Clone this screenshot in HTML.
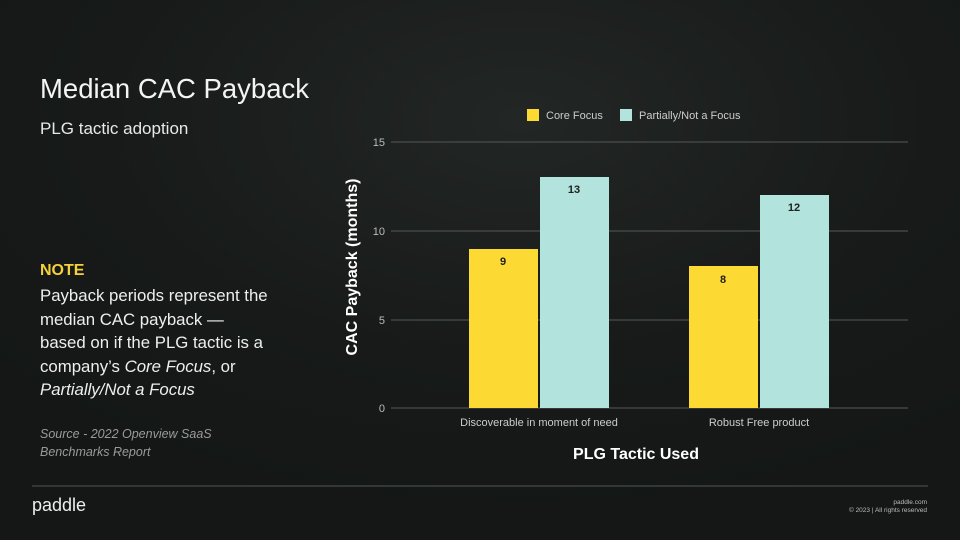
<!DOCTYPE html>
<html><head><meta charset="utf-8"><style>
body{margin:0;width:960px;height:540px;overflow:hidden;font-family:"Liberation Sans",sans-serif;
background:radial-gradient(ellipse 700px 400px at 520px 120px,#222624 0%,#171a19 60%,#141716 100%);color:#fff;position:relative}
.a{position:absolute;white-space:nowrap}
</style></head><body>
<div class="a" style="left:40px;top:73px;font-size:27.5px;color:#f4f4f4">Median CAC Payback</div>
<div class="a" style="left:40px;top:119px;font-size:17px;color:#e8e8e8">PLG tactic adoption</div>
<div class="a" style="left:40px;top:262px;font-size:16px;font-weight:bold;color:#f5d23a">NOTE</div>
<div class="a" style="left:40px;top:284px;font-size:16.8px;line-height:23.5px;color:#eee">Payback periods represent the<br>median CAC payback —<br>based on if the PLG tactic is a<br>company’s <i>Core Focus</i>, or<br><i>Partially/Not a Focus</i></div>
<div class="a" style="left:40px;top:425px;font-size:12.5px;line-height:18px;color:#9a9a9a;font-style:italic">Source - 2022 Openview SaaS<br>Benchmarks Report</div>
<svg class="a" style="left:0;top:0" width="960" height="540">
<g stroke="#4a4d4b" stroke-width="1.2">
<line x1="391" y1="142" x2="908" y2="142"/><line x1="391" y1="231" x2="908" y2="231"/>
<line x1="391" y1="320" x2="908" y2="320"/><line x1="391" y1="408" x2="908" y2="408"/></g>
<g font-size="11" fill="#bbb" text-anchor="end">
<text x="385" y="146">15</text><text x="385" y="235">10</text><text x="385" y="324">5</text><text x="385" y="412">0</text></g>
<rect x="469" y="249" width="69" height="159" fill="#fcd933"/>
<rect x="540" y="177" width="69" height="231" fill="#b2e3dc"/>
<rect x="689" y="266" width="69" height="142" fill="#fcd933"/>
<rect x="760" y="195" width="69" height="213" fill="#b2e3dc"/>
<g font-size="11" font-weight="bold" fill="#222" text-anchor="middle">
<text x="503" y="265">9</text><text x="574" y="193">13</text><text x="723" y="283">8</text><text x="794" y="211">12</text></g>
<g font-size="11" fill="#ccc" text-anchor="middle"><text x="539" y="426">Discoverable in moment of need</text><text x="759" y="426">Robust Free product</text></g>
<text x="636" y="459" font-size="16" font-weight="bold" fill="#fff" text-anchor="middle">PLG Tactic Used</text>
<text transform="translate(357,267) rotate(-90)" font-size="16" font-weight="bold" fill="#fff" text-anchor="middle">CAC Payback (months)</text>
<rect x="527" y="109" width="12" height="12" fill="#fcd933"/>
<text x="546" y="119" font-size="11" fill="#ccc">Core Focus</text>
<rect x="620" y="109" width="12" height="12" fill="#b2e3dc"/>
<text x="639" y="119" font-size="11" fill="#ccc">Partially/Not a Focus</text>
<line x1="32" y1="486" x2="928" y2="486" stroke="#555" stroke-width="1"/>
<text x="32" y="511" font-size="18" fill="#eee">paddle</text>
<g font-size="6.5" fill="#bbb" text-anchor="end"><text x="927" y="504">paddle.com</text><text x="927" y="512">© 2023  |  All rights reserved</text></g>
</svg>
</body></html>
